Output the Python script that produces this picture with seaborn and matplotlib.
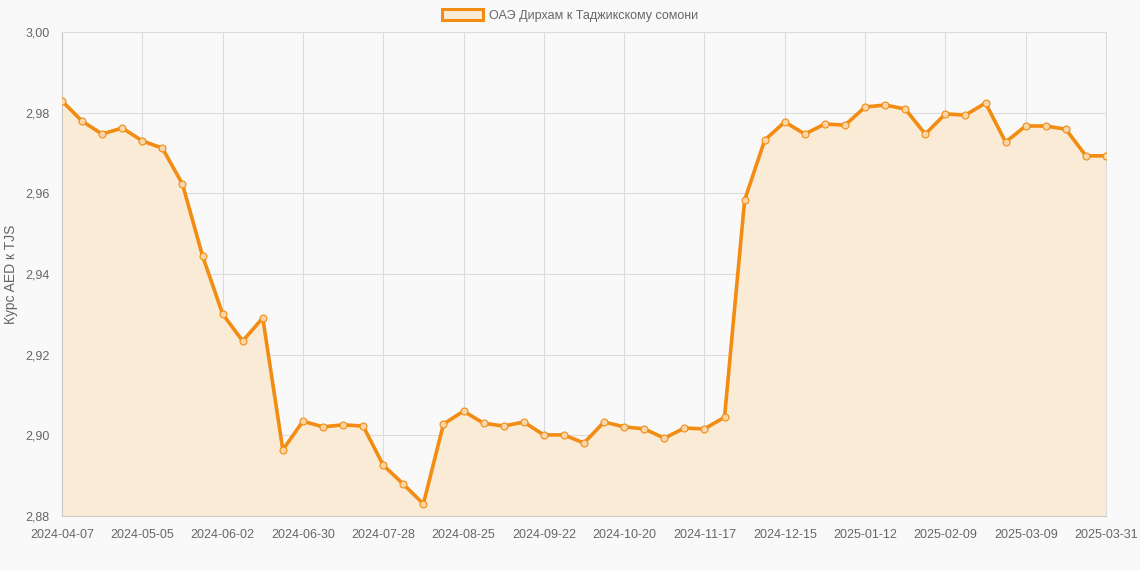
import matplotlib
matplotlib.use("Agg")
import matplotlib.pyplot as plt
import matplotlib.patches as mpatches
import seaborn as sns
import pandas as pd
from matplotlib.ticker import FuncFormatter

# weekly dates, last point is 2025-03-31
dates = list(pd.date_range("2024-04-07", periods=52, freq="7D").strftime("%Y-%m-%d")) + ["2025-03-31"]

rates = [2.9829, 2.9779, 2.9747, 2.9762, 2.9730, 2.9712, 2.9623, 2.9445, 2.9301, 2.9234,
         2.9291, 2.8964, 2.9035, 2.9021, 2.9026, 2.9023, 2.8926, 2.8879, 2.8830, 2.9028,
         2.9060, 2.9030, 2.9023, 2.9033, 2.9001, 2.9001, 2.8981, 2.9033, 2.9021, 2.9016,
         2.8993, 2.9018, 2.9016, 2.9045, 2.9583, 2.9732, 2.9777, 2.9747, 2.9772, 2.9769,
         2.9814, 2.9819, 2.9809, 2.9747, 2.9797, 2.9794, 2.9824, 2.9727, 2.9767, 2.9767,
         2.9759, 2.9693, 2.9693]

series_name = "ОАЭ Дирхам к Таджикскому сомони"
y_label = "Курс AED к TJS"
y_ticks = [2.88, 2.90, 2.92, 2.94, 2.96, 2.98, 3.00]

line_color = "#f28c12"
fill_color = "#faebd7"
text_color = "#666666"
grid_color = "#dcdcdc"
bg = "#f9f9f9"

sns.set_style("whitegrid")
plt.rcParams["font.family"] = ["Liberation Sans", "DejaVu Sans"]

df = pd.DataFrame({"idx": range(len(dates)), "rate": rates})

fig = plt.figure(figsize=(11.4, 5.7), dpi=100, facecolor=bg)
ax = fig.add_axes([62 / 1140, 1 - 516 / 570, (1106 - 62) / 1140, (516 - 32) / 570])
ax.set_facecolor(bg)

ax.fill_between(df["idx"], df["rate"], 2.88, color=fill_color, zorder=1, linewidth=0)
sns.lineplot(data=df, x="idx", y="rate", ax=ax, color=line_color, linewidth=2.6,
             marker="o", markersize=5, markerfacecolor="#f8d6a8",
             markeredgecolor=line_color, markeredgewidth=0.8, zorder=3)

ax.set_xlim(0, len(dates) - 1)
ax.set_ylim(2.88, 3.00)
tick_idx = list(range(0, len(dates) - 1, 4)) + [len(dates) - 1]
ax.set_xticks(tick_idx)
ax.set_xticklabels([dates[i] for i in tick_idx])
ax.set_yticks(y_ticks)
ax.yaxis.set_major_formatter(FuncFormatter(lambda v, p: f"{v:.2f}".replace(".", ",")))

ax.grid(True, color=grid_color, linewidth=0.8, zorder=0)
ax.set_axisbelow(True)
for side in ["top", "right"]:
    ax.spines[side].set_color(grid_color)
    ax.spines[side].set_linewidth(0.8)
for side in ["left", "bottom"]:
    ax.spines[side].set_color("#c8c8c8")
    ax.spines[side].set_linewidth(0.8)

ax.tick_params(axis="both", length=6, width=0.8, color=grid_color,
               labelcolor=text_color, labelsize=9, pad=3)
ax.set_xlabel("")
ax.set_ylabel(y_label, color=text_color, fontsize=10, labelpad=5)

handle = mpatches.Patch(facecolor=fill_color, edgecolor=line_color, linewidth=2.2, label=series_name)
leg = fig.legend(handles=[handle], loc="upper center", bbox_to_anchor=(0.5, 1.0),
                 frameon=False, fontsize=9, handlelength=3.3, handleheight=1.0,
                 handletextpad=0.5, borderaxespad=0.3)
for t in leg.get_texts():
    t.set_color(text_color)

fig.savefig("out.png", dpi=100, facecolor=bg)
